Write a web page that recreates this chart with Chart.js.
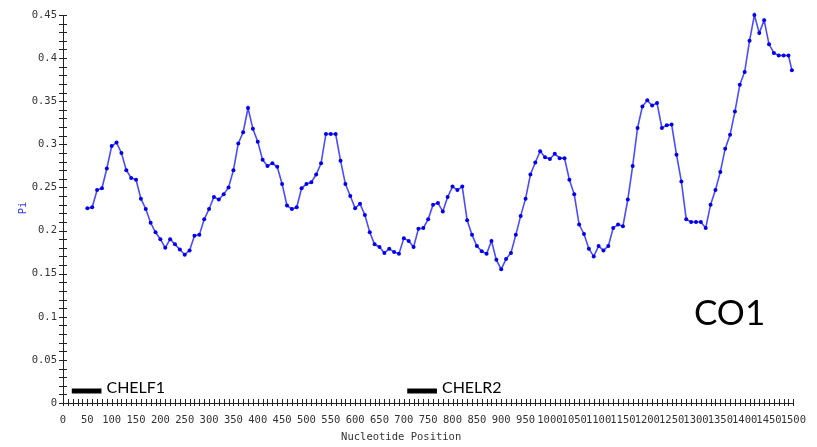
<!DOCTYPE html>
<html>
<head>
<meta charset="utf-8">
<script src="https://cdn.jsdelivr.net/npm/chart.js@4.4.1/dist/chart.umd.min.js"></script>
<style>
  html, body { margin: 0; padding: 0; background: #fff; }
</style>
</head>
<body>
<canvas id="pi" width="817" height="447"></canvas>
<script>
// sliding window midpoints (window 100, step 10)
const positions = [
  50, 60, 70, 80, 90, 100, 110, 120, 130, 140, 150, 160, 170, 180, 190, 200,
  210, 220, 230, 240, 250, 260, 270, 280, 290, 300, 310, 320, 330, 340, 350, 360,
  370, 380, 390, 400, 410, 420, 430, 440, 450, 460, 470, 480, 490, 500, 510, 520,
  530, 540, 550, 560, 570, 580, 590, 600, 610, 620, 630, 640, 650, 660, 670, 680,
  690, 700, 710, 720, 730, 740, 750, 760, 770, 780, 790, 800, 810, 820, 830, 840,
  850, 860, 870, 880, 890, 900, 910, 920, 930, 940, 950, 960, 970, 980, 990, 1000,
  1010, 1020, 1030, 1040, 1050, 1060, 1070, 1080, 1090, 1100, 1110, 1120, 1130, 1140, 1150, 1160,
  1170, 1180, 1190, 1200, 1210, 1220, 1230, 1240, 1250, 1260, 1270, 1280, 1290, 1300, 1310, 1320,
  1330, 1340, 1350, 1360, 1370, 1380, 1390, 1400, 1410, 1420, 1430, 1440, 1450, 1460, 1470, 1480,
  1490, 1497
];

// nucleotide diversity per window
const piValues = [
  0.226, 0.227, 0.247, 0.249, 0.272, 0.298, 0.302, 0.290, 0.270, 0.261, 0.259, 0.237, 0.225, 0.209, 0.198, 0.190,
  0.180, 0.190, 0.184, 0.178, 0.172, 0.177, 0.194, 0.195, 0.213, 0.225, 0.239, 0.236, 0.242, 0.250, 0.270, 0.301,
  0.314, 0.342, 0.318, 0.303, 0.282, 0.275, 0.278, 0.274, 0.254, 0.229, 0.225, 0.227, 0.249, 0.254, 0.256, 0.265,
  0.278, 0.312, 0.312, 0.312, 0.281, 0.254, 0.240, 0.226, 0.231, 0.218, 0.198, 0.184, 0.181, 0.174, 0.179, 0.175,
  0.173, 0.191, 0.188, 0.181, 0.202, 0.203, 0.213, 0.230, 0.232, 0.222, 0.239, 0.251, 0.247, 0.251, 0.212, 0.195,
  0.182, 0.176, 0.173, 0.188, 0.166, 0.155, 0.167, 0.174, 0.195, 0.217, 0.237, 0.265, 0.279, 0.292, 0.285, 0.283,
  0.289, 0.284, 0.284, 0.259, 0.242, 0.207, 0.196, 0.179, 0.170, 0.182, 0.177, 0.182, 0.203, 0.207, 0.205, 0.236,
  0.275, 0.319, 0.344, 0.351, 0.345, 0.348, 0.319, 0.322, 0.323, 0.288, 0.257, 0.213, 0.210, 0.210, 0.210, 0.203,
  0.230, 0.247, 0.268, 0.295, 0.311, 0.338, 0.369, 0.384, 0.420, 0.450, 0.429, 0.444, 0.416, 0.406, 0.403, 0.403,
  0.403, 0.386
];

// primer sites along the gene
const primerNames = ['CHELF1', 'CHELR2'];
const primerStart = [18, 707];
const primerEnd = [79, 768];
const primerLevel = 0.014;

const geneName = 'CO1';
const geneLabelAt = [1369, 0.104];

const xRange = [0, 1500];
const yRange = [0, 0.45];
const xTitle = 'Nucleotide Position';
const yTitle = 'Pi';

const tickFont = { family: "'DejaVu Sans Mono', monospace", size: 10.5 };

const primerSets = primerNames.map((name, i) => ({
  label: name,
  data: [{ x: primerStart[i], y: primerLevel }, { x: primerEnd[i], y: primerLevel }],
  borderColor: '#000',
  borderWidth: 5,
  borderCapStyle: 'butt',
  pointRadius: 0,
  showLine: true
}));

// small cross ticks on both axes, plus the text labels
const axisDecor = {
  id: 'axisDecor',
  afterDraw(chart) {
    const { ctx, scales: { x, y } } = chart;
    const ax = x.getPixelForValue(xRange[0]);
    const ay = y.getPixelForValue(yRange[0]);
    ctx.save();
    ctx.strokeStyle = '#222';
    ctx.lineWidth = 1;
    ctx.beginPath();
    for (let k = 0; k <= 45; k++) {
      const py = Math.round(y.getPixelForValue(k / 100)) + 0.5;
      ctx.moveTo(ax - 4, py);
      ctx.lineTo(ax + 4, py);
    }
    for (let p = xRange[0]; p <= xRange[1]; p += 10) {
      const px = Math.round(x.getPixelForValue(p)) + 0.5;
      ctx.moveTo(px, ay - 4);
      ctx.lineTo(px, ay + 3);
    }
    ctx.stroke();

    // primer names
    ctx.fillStyle = '#000';
    ctx.font = "16px Lato, 'Noto Sans', sans-serif";
    ctx.textBaseline = 'alphabetic';
    ctx.textAlign = 'left';
    primerNames.forEach((name, i) => {
      ctx.fillText(name, x.getPixelForValue(primerEnd[i]) + 5, y.getPixelForValue(primerLevel) + 2.5);
    });

    // gene name
    ctx.font = "35px Lato, 'Noto Sans', sans-serif";
    ctx.textAlign = 'center';
    ctx.textBaseline = 'middle';
    ctx.fillText(geneName, x.getPixelForValue(geneLabelAt[0]), y.getPixelForValue(geneLabelAt[1]));

    // axis titles
    ctx.font = "10.5px 'DejaVu Sans Mono', monospace";
    ctx.fillStyle = '#333';
    ctx.fillText(xTitle, (chart.chartArea.left + chart.chartArea.right) / 2 - 27, 437);
    ctx.translate(23, 208);
    ctx.rotate(-Math.PI / 2);
    ctx.fillStyle = '#3a3aff';
    ctx.fillText(yTitle, 0, 0);
    ctx.restore();
  }
};

new Chart(document.getElementById('pi'), {
  type: 'scatter',
  data: {
    datasets: [
      {
        label: yTitle,
        data: positions.map((p, i) => ({ x: p, y: piValues[i] })),
        showLine: true,
        borderColor: '#4b4bff',
        borderWidth: 1.6,
        pointRadius: 2,
        pointBackgroundColor: '#0000ee',
        pointBorderColor: '#0000ee',
        pointBorderWidth: 0,
        tension: 0,
        clip: false
      },
      ...primerSets
    ]
  },
  options: {
    responsive: false,
    devicePixelRatio: 1,
    animation: false,
    layout: { padding: { top: 15, right: 22, left: 0, bottom: 0 } },
    plugins: { legend: { display: false }, tooltip: { enabled: false } },
    scales: {
      x: {
        type: 'linear',
        min: xRange[0],
        max: xRange[1],
        afterFit: (s) => { s.height = 44; },
        grid: { drawOnChartArea: false, drawTicks: false },
        border: { color: '#222', width: 1 },
        ticks: {
          stepSize: 50,
          autoSkip: false,
          maxRotation: 0,
          padding: 11,
          color: '#333',
          font: tickFont,
          callback: (v) => String(v)
        }
      },
      y: {
        min: yRange[0],
        max: yRange[1],
        afterFit: (s) => { s.width = 63; },
        grid: { drawOnChartArea: false, drawTicks: false },
        border: { color: '#222', width: 1 },
        ticks: {
          stepSize: 0.05,
          padding: 6,
          color: '#333',
          font: tickFont,
          callback: (v) => String(+v.toFixed(2))
        }
      }
    }
  },
  plugins: [axisDecor]
});
</script>
</body>
</html>
